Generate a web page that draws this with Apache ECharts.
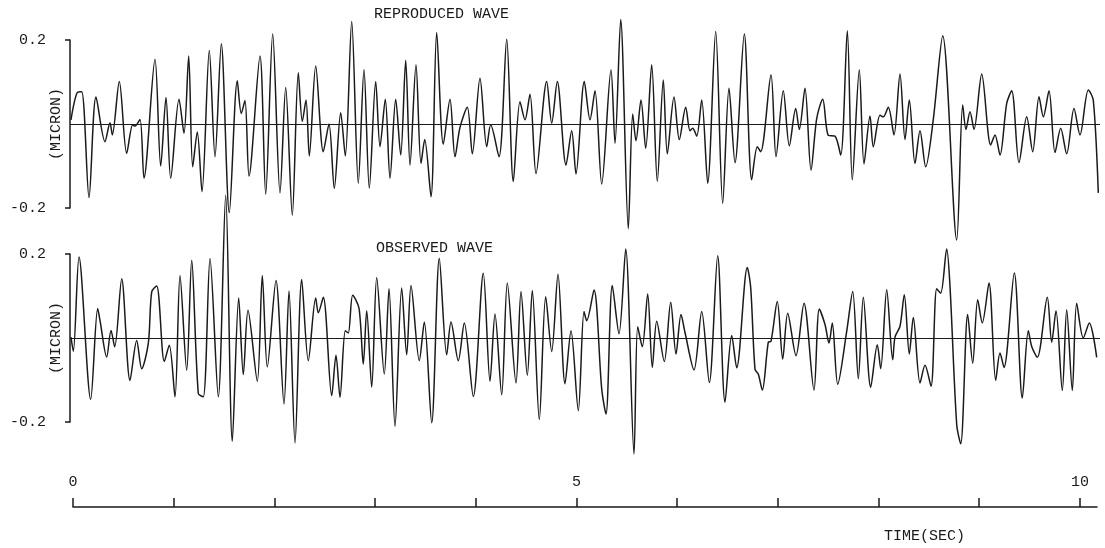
<!DOCTYPE html>
<html>
<head>
<meta charset="utf-8">
<title>Reproduced / Observed wave</title>
<script src="https://cdn.jsdelivr.net/npm/echarts@6/dist/echarts.min.js"></script>
<style>
  html, body { margin: 0; padding: 0; background: #fff; }
  #chart { width: 1105px; height: 548px; }
</style>
</head>
<body>
<div id="chart"></div>
<script>
const reproducedWave = [
  [-0.02, 0.01], [0.043, 0.075], [0.087, 0.077], [0.16, -0.175], [0.23, 0.064], [0.32, -0.042],
  [0.37, 0.003], [0.393, -0.026], [0.463, 0.101], [0.537, -0.07], [0.597, -0.002], [0.62, -0.005],
  [0.67, 0.011], [0.71, -0.129], [0.82, 0.154], [0.877, -0.1], [0.93, 0.063], [0.977, -0.129],
  [1.06, 0.059], [1.11, -0.022], [1.157, 0.162], [1.197, -0.102], [1.243, -0.019], [1.29, -0.161],
  [1.363, 0.175], [1.42, -0.078], [1.483, 0.191], [1.563, -0.211], [1.643, 0.103], [1.683, 0.025],
  [1.72, 0.056], [1.76, -0.124], [1.87, 0.162], [1.927, -0.167], [1.997, 0.214], [2.07, -0.164],
  [2.127, 0.087], [2.193, -0.217], [2.253, 0.122], [2.293, 0.006], [2.33, 0.057], [2.363, -0.076],
  [2.427, 0.138], [2.503, -0.066], [2.56, 0.0], [2.613, -0.153], [2.677, 0.027], [2.723, -0.076],
  [2.787, 0.244], [2.853, -0.141], [2.91, 0.13], [2.963, -0.153], [3.027, 0.101], [3.07, -0.054],
  [3.123, 0.059], [3.17, -0.129], [3.227, 0.059], [3.277, -0.074], [3.327, 0.152], [3.37, -0.098],
  [3.43, 0.141], [3.48, -0.094], [3.517, -0.037], [3.58, -0.173], [3.637, 0.218], [3.703, -0.048],
  [3.77, 0.059], [3.82, -0.078], [3.87, -0.008], [3.943, 0.04], [3.993, -0.071], [4.07, 0.109],
  [4.137, -0.054], [4.177, -0.002], [4.26, -0.078], [4.337, 0.202], [4.403, -0.137], [4.47, 0.053],
  [4.52, 0.01], [4.57, 0.071], [4.63, -0.118], [4.737, 0.101], [4.787, 0.002], [4.843, 0.101],
  [4.93, -0.098], [4.987, -0.016], [5.03, -0.119], [5.113, 0.101], [5.17, 0.01], [5.22, 0.079],
  [5.287, -0.143], [5.38, 0.129], [5.42, -0.046], [5.477, 0.249], [5.553, -0.249], [5.597, 0.024],
  [5.63, -0.04], [5.68, 0.057], [5.727, -0.058], [5.787, 0.141], [5.843, -0.137], [5.903, 0.105],
  [5.943, -0.071], [6.01, 0.064], [6.063, -0.037], [6.127, 0.04], [6.17, -0.016], [6.197, -0.01],
  [6.237, -0.029], [6.287, 0.057], [6.347, -0.141], [6.427, 0.22], [6.497, -0.189], [6.56, 0.085],
  [6.62, -0.092], [6.713, 0.214], [6.787, -0.133], [6.843, -0.054], [6.877, -0.066], [6.98, 0.117],
  [7.03, -0.078], [7.103, 0.079], [7.163, -0.052], [7.227, 0.037], [7.263, -0.013], [7.32, 0.085],
  [7.38, -0.11], [7.437, 0.013], [7.497, 0.059], [7.553, -0.027], [7.62, -0.029], [7.677, -0.074],
  [7.743, 0.222], [7.793, -0.133], [7.863, 0.129], [7.91, -0.095], [7.97, 0.019], [8.003, -0.054],
  [8.07, 0.021], [8.103, 0.017], [8.153, 0.04], [8.21, -0.026], [8.27, 0.119], [8.32, -0.037],
  [8.363, 0.057], [8.42, -0.094], [8.47, -0.016], [8.527, -0.102], [8.603, 0.011], [8.697, 0.21],
  [8.837, -0.276], [8.897, 0.045], [8.93, -0.013], [8.97, 0.029], [9.01, -0.013], [9.087, 0.119],
  [9.177, -0.05], [9.22, -0.026], [9.27, -0.074], [9.337, 0.049], [9.387, 0.079], [9.46, -0.092],
  [9.537, 0.017], [9.597, -0.066], [9.66, 0.065], [9.703, 0.017], [9.76, 0.079], [9.82, -0.068],
  [9.877, -0.01], [9.937, -0.071], [10.01, 0.037], [10.07, -0.026], [10.153, 0.081], [10.203, 0.057],
  [10.253, -0.164]
];

// observed wave: [time (sec), displacement (micron)]
const observedWave = [
  [-0.02, 0.002], [0.003, -0.032], [0.06, 0.193], [0.177, -0.146], [0.247, 0.07], [0.27, 0.042],
  [0.337, -0.045], [0.38, 0.018], [0.417, -0.021], [0.487, 0.141], [0.57, -0.101], [0.637, -0.006],
  [0.687, -0.073], [0.753, -0.013], [0.787, 0.11], [0.837, 0.124], [0.913, -0.056], [0.963, -0.017],
  [1.02, -0.14], [1.07, 0.149], [1.137, -0.077], [1.187, 0.185], [1.253, -0.132], [1.303, -0.14],
  [1.37, 0.189], [1.453, -0.14], [1.527, 0.34], [1.593, -0.246], [1.657, 0.095], [1.703, -0.087],
  [1.75, 0.066], [1.843, -0.103], [1.893, 0.149], [1.943, -0.069], [2.03, 0.137], [2.11, -0.157],
  [2.16, 0.112], [2.22, -0.25], [2.287, 0.139], [2.353, -0.054], [2.427, 0.095], [2.453, 0.06],
  [2.503, 0.097], [2.587, -0.137], [2.63, -0.041], [2.67, -0.141], [2.723, 0.017], [2.753, 0.012],
  [2.797, 0.102], [2.86, 0.071], [2.903, -0.062], [2.937, 0.065], [2.987, -0.117], [3.037, 0.144],
  [3.113, -0.086], [3.16, 0.117], [3.22, -0.21], [3.287, 0.119], [3.337, -0.04], [3.38, 0.125],
  [3.463, -0.054], [3.513, 0.038], [3.587, -0.202], [3.663, 0.19], [3.737, -0.04], [3.78, 0.038],
  [3.853, -0.054], [3.913, 0.036], [4.003, -0.139], [4.103, 0.154], [4.17, -0.103], [4.22, 0.057],
  [4.287, -0.135], [4.343, 0.131], [4.43, -0.107], [4.48, 0.111], [4.543, -0.089], [4.593, 0.113],
  [4.663, -0.194], [4.727, 0.098], [4.787, -0.032], [4.85, 0.152], [4.92, -0.109], [4.98, 0.017],
  [5.053, -0.173], [5.11, 0.063], [5.137, 0.041], [5.21, 0.114], [5.287, -0.121], [5.33, -0.181],
  [5.393, 0.125], [5.46, 0.01], [5.527, 0.212], [5.61, -0.276], [5.647, 0.027], [5.693, -0.021],
  [5.747, 0.105], [5.793, -0.07], [5.837, 0.04], [5.913, -0.056], [5.977, 0.085], [6.03, -0.038],
  [6.08, 0.056], [6.12, 0.013], [6.21, -0.076], [6.287, 0.063], [6.363, -0.106], [6.447, 0.196],
  [6.52, -0.153], [6.587, 0.006], [6.637, -0.071], [6.743, 0.168], [6.777, 0.12], [6.82, -0.074],
  [6.853, -0.086], [6.893, -0.124], [6.953, -0.01], [6.98, -0.008], [7.043, 0.087], [7.097, -0.05],
  [7.147, 0.059], [7.23, -0.042], [7.31, 0.083], [7.41, -0.124], [7.463, 0.069], [7.52, 0.032],
  [7.56, -0.012], [7.593, 0.036], [7.647, -0.11], [7.737, 0.016], [7.797, 0.111], [7.853, -0.097],
  [7.903, 0.097], [7.977, -0.117], [8.043, -0.016], [8.077, -0.073], [8.137, 0.115], [8.197, -0.052],
  [8.22, 0.002], [8.27, 0.028], [8.313, 0.103], [8.363, -0.038], [8.403, 0.049], [8.47, -0.107],
  [8.52, -0.065], [8.58, -0.115], [8.637, 0.117], [8.677, 0.107], [8.737, 0.212], [8.77, 0.123],
  [8.837, -0.206], [8.877, -0.252], [8.947, 0.056], [8.997, -0.06], [9.047, 0.091], [9.093, 0.036],
  [9.16, 0.131], [9.227, -0.101], [9.27, -0.036], [9.31, -0.07], [9.413, 0.155], [9.493, -0.143],
  [9.553, 0.017], [9.587, -0.02], [9.643, -0.046], [9.743, 0.097], [9.787, -0.01], [9.83, 0.065],
  [9.893, -0.125], [9.937, 0.067], [9.993, -0.125], [10.037, 0.083], [10.103, 0.0], [10.163, 0.036],
  [10.237, -0.046]
];

// time axis labels shown under the plots
const timeLabels = [0, 5, 10];

const FONT = 'Liberation Mono';
const INK = '#1a1a1a';
const TXT = { fontFamily: FONT, fontSize: 15, fontWeight: 'normal', color: INK };

function waveYAxis(gridIndex) {
  return {
    gridIndex,
    type: 'value',
    min: -0.2,
    max: 0.2,
    interval: 0.4,
    name: '(MICRON)',
    nameLocation: 'middle',
    nameRotate: 90,
    nameGap: 6,
    nameMoveOverlap: false,
    nameTextStyle: TXT,
    axisLine: { show: true, onZero: false, lineStyle: { color: INK, width: 1.5 } },
    axisTick: { show: true, length: 5, lineStyle: { color: INK, width: 1.5 } },
    axisLabel: { margin: 24, ...TXT, formatter: (v) => v.toFixed(1) },
    splitLine: { show: false },
  };
}

function waveXAxis(gridIndex) {
  return { gridIndex, type: 'value', min: -0.03, max: 10.27, show: false };
}

function waveSeries(data, idx) {
  return {
    type: 'line',
    data,
    xAxisIndex: idx,
    yAxisIndex: idx,
    smooth: 0.3,
    showSymbol: false,
    clip: false,
    lineStyle: { color: INK, width: 1.5 },
    markLine: {
      silent: true,
      symbol: 'none',
      label: { show: false },
      lineStyle: { color: INK, width: 1, type: 'solid' },
      data: [{ yAxis: 0 }],
    },
  };
}

const chart = echarts.init(document.getElementById('chart'));
chart.setOption({
  animation: false,
  backgroundColor: '#fff',
  title: [
    { text: 'REPRODUCED WAVE', left: 374, top: 7, padding: 0, textStyle: TXT },
    { text: 'OBSERVED WAVE', left: 376, top: 241, padding: 0, textStyle: TXT },
    { text: 'TIME(SEC)', left: 884, top: 529, padding: 0, textStyle: TXT },
  ],
  grid: [
    { left: 70, top: 40, width: 1030, height: 168, outerBoundsMode: 'none' },
    { left: 70, top: 254, width: 1030, height: 168, outerBoundsMode: 'none' },
    { left: 73, top: 470, width: 1024, height: 37, outerBoundsMode: 'none' },
  ],
  xAxis: [
    waveXAxis(0),
    waveXAxis(1),
    {
      gridIndex: 2,
      type: 'value',
      min: 0,
      max: 10.17,
      interval: 1,
      axisLine: { show: true, lineStyle: { color: INK, width: 1.5 } },
      axisTick: { show: true, inside: true, length: 9, lineStyle: { color: INK, width: 1.5 } },
      axisLabel: {
        inside: true, margin: 17, ...TXT,
        showMaxLabel: false,
        formatter: (v) => (timeLabels.includes(v) ? String(v) : ''),
      },
      splitLine: { show: false },
    },
  ],
  yAxis: [
    waveYAxis(0),
    waveYAxis(1),
    { gridIndex: 2, type: 'value', show: false },
  ],
  series: [
    waveSeries(reproducedWave, 0),
    waveSeries(observedWave, 1),
  ],
});
</script>
</body>
</html>
